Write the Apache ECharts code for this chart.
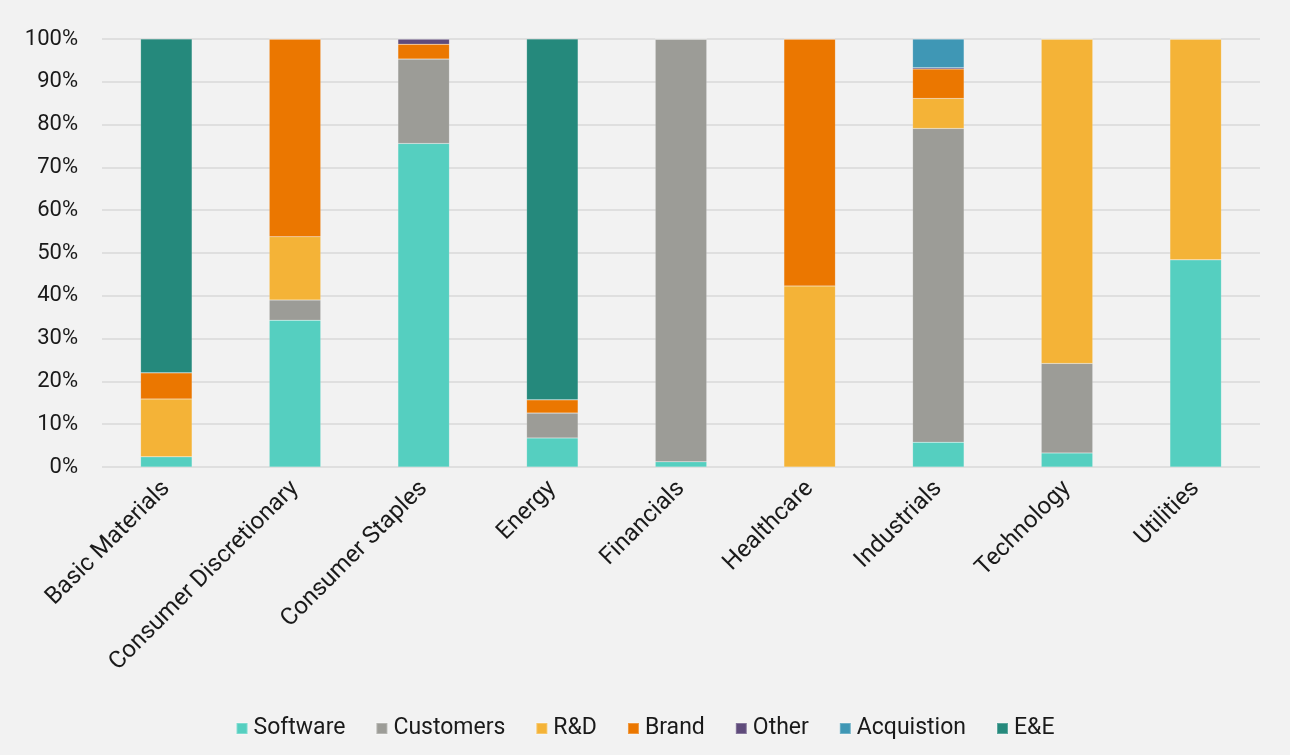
<!DOCTYPE html>
<html>
<head>
<meta charset="utf-8">
<script src="https://cdn.jsdelivr.net/npm/echarts@6/dist/echarts.min.js"></script>
<style>
  html, body { margin: 0; padding: 0; background: #f2f2f2; }
  #chart { width: 1290px; height: 755px; }
</style>
</head>
<body>
<div id="chart"></div>
<script>
// Sectors along the x axis
const sectors = ['Basic Materials', 'Consumer Discretionary', 'Consumer Staples', 'Energy',
  'Financials', 'Healthcare', 'Industrials', 'Technology', 'Utilities'];

// Share of each intangible type per sector (%)
const software    = [2.4, 34.3, 75.6, 6.8, 1.2, 0, 5.8, 3.3, 48.4];
const customers   = [0, 4.7, 19.7, 5.8, 98.8, 0, 73.3, 20.9, 0];
const rnd         = [13.5, 14.8, 0, 0, 0, 42.3, 7.0, 75.8, 51.6];
const brand       = [6.1, 46.2, 3.5, 3.1, 0, 57.7, 6.9, 0, 0];
const other       = [0, 0, 1.2, 0, 0, 0, 0.3, 0, 0];
const acquisition = [0, 0, 0, 0, 0, 0, 6.7, 0, 0];
const ee          = [78.0, 0, 0, 84.3, 0, 0, 0, 0, 0];

const yTicks = [0, 10, 20, 30, 40, 50, 60, 70, 80, 90, 100];

const seriesDefs = [
  { name: 'Software', data: software, color: '#55cfc0' },
  { name: 'Customers', data: customers, color: '#9c9c97' },
  { name: 'R&D', data: rnd, color: '#f4b337' },
  { name: 'Brand', data: brand, color: '#eb7700' },
  { name: 'Other', data: other, color: '#5f4b7b' },
  { name: 'Acquistion', data: acquisition, color: '#3f97b5' },
  { name: 'E&E', data: ee, color: '#25897c' }
];

const font = 'Roboto, "Noto Sans", sans-serif';
const chart = echarts.init(document.getElementById('chart'), null, { renderer: 'canvas' });

chart.setOption({
  backgroundColor: '#f2f2f2',
  animation: false,
  grid: { left: 102, right: 30, top: 39, bottom: 288, containLabel: false },
  legend: {
    bottom: 10,
    left: 'center',
    itemWidth: 11,
    itemHeight: 11,
    itemGap: 30,
    icon: 'rect',
    textStyle: { fontFamily: font, fontSize: 23, color: '#1a1a1a', padding: [0, 0, 0, 1] },
    data: seriesDefs.map(s => s.name)
  },
  xAxis: {
    type: 'category',
    data: sectors,
    axisLine: { show: false },
    axisTick: { show: false },
    axisLabel: {
      rotate: 45,
      interval: 0,
      margin: 18,
      fontFamily: font,
      fontSize: 24,
      color: '#1a1a1a'
    }
  },
  yAxis: {
    type: 'value',
    min: yTicks[0],
    max: yTicks[yTicks.length - 1],
    interval: 10,
    axisLine: { show: false },
    axisTick: { show: false },
    splitLine: { lineStyle: { color: '#d9d9d9', width: 1.5 } },
    axisLabel: {
      margin: 24,
      fontFamily: font,
      fontSize: 22,
      color: '#1a1a1a',
      formatter: v => v + '%'
    }
  },
  series: seriesDefs.map(s => ({
    name: s.name,
    type: 'bar',
    stack: 'total',
    barWidth: '40%',
    data: s.data,
    itemStyle: { color: s.color, borderColor: 'rgba(255,255,255,0.25)', borderWidth: 0.5 }
  }))
});
</script>
</body>
</html>
